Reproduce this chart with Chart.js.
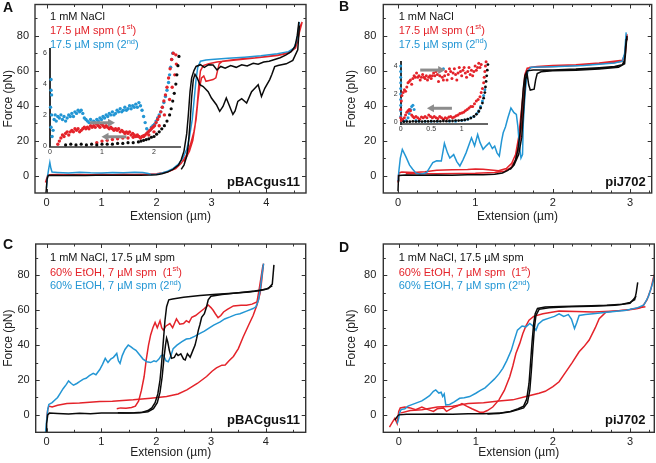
<!DOCTYPE html>
<html>
<head>
<meta charset="utf-8">
<script src="https://cdn.jsdelivr.net/npm/chart.js@4.4.0/dist/chart.umd.min.js"></script>
<style>
  html, body { margin: 0; padding: 0; background: #fff; }
  #wrap { position: relative; width: 656px; height: 463px; overflow: hidden; }
  canvas { position: absolute; }
</style>
</head>
<body>
<div id="wrap">
  <canvas id="cA" width="328" height="231" style="left:0;top:0;width:328px;height:231px"></canvas>
  <canvas id="cB" width="328" height="231" style="left:328px;top:0;width:328px;height:231px"></canvas>
  <canvas id="cC" width="328" height="232" style="left:0;top:231px;width:328px;height:232px"></canvas>
  <canvas id="cD" width="328" height="232" style="left:328px;top:231px;width:328px;height:232px"></canvas>
  <canvas id="iA" width="160" height="116" style="left:30px;top:44px;width:160px;height:116px"></canvas>
  <canvas id="iB" width="110" height="80" style="left:385px;top:56px;width:110px;height:80px"></canvas>
</div>
<script>
// ---- tick labels ----
const yTicks = [0, 20, 40, 60, 80];
const xTicks4 = [0, 1, 2, 3, 4];
const xTicks3 = [0, 1, 2, 3];
const iaXTicks = [0, 1, 2];
const iaYTicks = [0, 2, 4, 6];
const ibXTicks = [0, 0.5, 1];
const ibYTicks = [0, 2, 4];

// ---- panel A (pBACgus11, 1 mM NaCl / 17.5 uM spm) : [extension um, force pN] ----
const aBlack1 = [[-0.01,-10],[0,-6],[0.01,-2],[0.03,0],[0.1,0.2],[0.3,0],[0.5,0.1],[0.7,0],[0.9,0.2],[1.1,0.1],[1.3,0.2],[1.5,0.1],[1.7,0.2],[1.9,0.3],[2.0,0.5],[2.1,1],[2.2,2],[2.3,3.5],[2.4,6],[2.45,9],[2.5,14],[2.55,24],[2.58,35],[2.61,48],[2.64,56],[2.68,60],[2.72,62.5],[2.8,63.5],[2.87,62],[2.95,63.5],[3.03,63.3],[3.1,60.5],[3.17,62.5],[3.25,61.5],[3.35,63],[3.45,62],[3.55,63.5],[3.65,62.8],[3.76,64.3],[3.85,63.8],[3.95,65],[4.05,65.5],[4.15,66.5],[4.25,67.5],[4.35,69],[4.45,71],[4.52,74],[4.56,80],[4.59,88]];
const aBlack2 = [[4.6,86],[4.57,72],[4.48,66],[4.36,64],[4.21,63],[4.15,62.4],[4.1,58],[4.06,55],[3.97,50],[3.91,45.3],[3.85,52],[3.79,50],[3.73,48],[3.64,41.5],[3.55,44],[3.48,42.5],[3.43,37],[3.39,35],[3.33,39.7],[3.27,44.4],[3.21,39.6],[3.15,36.8],[3.09,40.6],[3.0,44.4],[2.94,48],[2.85,51],[2.79,52],[2.74,56],[2.7,58],[2.67,55],[2.64,45],[2.61,30],[2.58,18],[2.55,11],[2.5,6],[2.45,3.5]];
const aRed = [[-0.02,-4],[0,-2],[0.02,0],[0.05,0.5],[0.2,0.6],[0.4,0.4],[0.6,0.6],[0.8,0.5],[1.0,0.7],[1.2,0.5],[1.4,0.7],[1.6,0.6],[1.8,0.8],[2.0,1],[2.2,2],[2.35,4],[2.45,7],[2.55,12],[2.62,18],[2.68,25],[2.72,32],[2.75,42],[2.78,50],[2.82,56],[2.86,57],[2.9,54],[2.96,54.5],[3.03,55],[3.08,56],[3.11,60],[3.14,64],[3.2,65.5],[3.4,66.3],[3.6,67],[3.8,67.5],[4.0,68.2],[4.2,69],[4.4,70.5],[4.5,72.5],[4.56,76],[4.6,82],[4.65,88],[4.62,86],[4.58,79],[4.53,73],[4.4,70],[4.2,68.8],[4.0,68],[3.7,67],[3.4,66],[3.1,65],[2.95,64],[2.85,63],[2.8,60],[2.77,52],[2.74,40],[2.7,28],[2.66,20],[2.6,14],[2.5,8]];
const aBlue = [[0.0,-7],[0.02,0],[0.04,4],[0.06,7.5],[0.08,4],[0.1,2],[0.2,1.8],[0.4,1.5],[0.6,1.9],[0.8,1.6],[1.0,1.5],[1.2,1.7],[1.4,1.6],[1.6,1.9],[1.75,1.7],[1.85,1.2],[1.9,0.6],[2.0,0.8],[2.1,1.5],[2.2,2.5],[2.3,4],[2.4,6.5],[2.48,10],[2.55,15],[2.6,22],[2.65,32],[2.69,45],[2.72,55],[2.75,62],[2.8,65.5],[2.9,66.2],[3.0,66.5],[3.3,67.2],[3.6,67.8],[3.9,68.6],[4.2,69.8],[4.4,71],[4.5,73],[4.55,77],[4.58,83],[4.6,88]];

// ---- panel B (piJ702) ----
const bBlack = [[0,-9],[0.005,-3],[0.01,0],[0.1,0.3],[0.3,0.2],[0.5,0.3],[0.7,0.2],[0.9,0.4],[1.1,0.5],[1.25,0.8],[1.35,1.5],[1.42,3],[1.48,5],[1.52,9],[1.55,15],[1.58,25],[1.6,38],[1.62,50],[1.64,57],[1.67,60],[1.75,60.5],[2.0,60.5],[2.3,61],[2.6,61.8],[2.8,62.5],[2.9,63.5],[2.93,66],[2.95,78],[2.96,80],[2.93,64],[2.85,62],[2.6,61],[2.3,60.3],[2.0,60],[1.85,59.5],[1.8,58.5],[1.78,55],[1.76,49.5],[1.71,49],[1.69,52],[1.67,58],[1.65,55],[1.63,42],[1.6,22],[1.56,12],[1.5,6],[1.45,3.5]];
const bRed = [[0,-4],[0.005,0],[0.01,1.5],[0.05,2],[0.2,1.8],[0.35,2.2],[0.5,3],[0.7,3.3],[0.9,3.5],[1.0,3.8],[1.1,3.6],[1.2,3.2],[1.3,2.8],[1.4,4],[1.47,7],[1.52,12],[1.56,22],[1.59,35],[1.62,48],[1.64,58],[1.67,61.5],[1.75,62],[2.0,62.5],[2.3,63],[2.6,64],[2.8,64.8],[2.9,65.5],[2.93,68],[2.95,78],[2.96,81],[2.94,70],[2.9,66],[2.6,64.5],[2.3,63.5],[2.0,63],[1.8,62.5],[1.7,62],[1.66,58],[1.63,45],[1.6,30],[1.57,18],[1.52,9],[1.46,4.5],[1.38,2.5],[1.25,1.8],[1.0,1.3],[0.8,1.2],[0.5,1],[0.3,1.2],[0.1,1]];
const bBlue = [[0,-3],[0.01,2],[0.03,10],[0.056,15],[0.1,11],[0.15,6],[0.19,3.6],[0.23,1.5],[0.28,0.8],[0.33,1.2],[0.37,1.7],[0.41,4.5],[0.45,7.4],[0.5,8.5],[0.56,8.3],[0.6,18.5],[0.64,13],[0.67,10],[0.72,12],[0.76,8],[0.8,5.5],[0.84,9],[0.88,13],[0.92,18],[0.95,21.6],[0.99,17],[1.03,23.5],[1.06,19],[1.1,15],[1.14,17],[1.18,18.8],[1.22,15.5],[1.25,16.9],[1.28,13],[1.31,11.2],[1.34,20],[1.36,24.5],[1.39,28],[1.42,33],[1.46,38.7],[1.5,36],[1.53,35],[1.55,28],[1.57,17],[1.59,10],[1.61,12],[1.62,30],[1.64,45],[1.66,55],[1.68,60],[1.72,62],[2.0,62.3],[2.4,63],[2.8,64.5],[2.9,65.5],[2.93,70],[2.95,82]];

// ---- panel C (pBACgus11, 60% EtOH) ----
const cBlack1 = [[-0.01,-10],[0.0,-5],[0.02,0],[0.05,1],[0.2,0.8],[0.4,0.5],[0.6,0.9],[0.8,0.6],[1.0,1.0],[1.2,1.1],[1.4,1.0],[1.6,1.2],[1.75,1.5],[1.85,2.5],[1.92,4],[1.98,7],[2.03,12],[2.07,20],[2.1,30],[2.13,42],[2.16,54],[2.19,62],[2.23,66],[2.3,66.5],[2.5,67.5],[2.8,68.5],[3.1,69.2],[3.4,69.8],[3.7,70.5],[3.9,71.3],[4.05,72.5],[4.12,75],[4.15,86]];
const cBlack2 = [[4.12,74],[4.0,72],[3.8,71],[3.5,70],[3.2,69],[3.0,68],[2.95,66],[2.92,62],[2.88,58],[2.83,56],[2.8,52],[2.77,48.6],[2.74,44],[2.71,40],[2.67,37],[2.62,33],[2.57,35],[2.53,31.5],[2.5,32],[2.45,35],[2.4,34],[2.37,35.2],[2.33,33],[2.28,32.4],[2.24,37],[2.21,42],[2.19,44],[2.17,40],[2.14,32],[2.11,22],[2.07,13],[2.02,7],[1.95,3.5],[1.85,1.8],[1.7,1.2],[1.5,1.0],[1.3,1.2]];
const cRed1 = [[1.28,3.5],[1.35,4],[1.45,3.8],[1.55,4.2],[1.62,5],[1.68,8],[1.73,14],[1.78,22],[1.82,32],[1.86,40],[1.9,46],[1.94,50],[1.98,53],[2.02,50],[2.07,54],[2.1,50],[2.13,48.6],[2.18,51],[2.25,52.4],[2.3,50],[2.37,55],[2.43,52],[2.5,52.4],[2.55,54],[2.6,53],[2.65,56],[2.72,57],[2.8,59],[2.88,61],[2.95,63],[3.0,61.5],[3.04,60],[3.08,58],[3.13,55.8],[3.18,57],[3.23,59],[3.3,60.5],[3.41,62.5],[3.55,62.8],[3.65,62.9],[3.75,63.5],[3.84,64.8],[3.88,72],[3.92,80],[3.95,86]];
const cRed2 = [[0.0,-2],[0.02,3],[0.04,5],[0.1,4.5],[0.2,5.5],[0.37,6.5],[0.6,6.8],[0.97,7.6],[1.2,7.8],[1.58,8.6],[1.9,9.5],[2.19,10.5],[2.4,12],[2.56,14.3],[2.75,18],[2.92,22],[3.02,25],[3.1,27],[3.2,28.5],[3.26,28.6],[3.33,31],[3.41,33.5],[3.5,38],[3.59,44.8],[3.68,51],[3.77,57],[3.84,63],[3.9,70],[3.93,78],[3.96,86.7]];
const cBlue = [[-0.02,-10],[0,-3],[0.02,3],[0.04,6],[0.1,7],[0.15,8.5],[0.2,10],[0.25,12.5],[0.3,15],[0.36,17.5],[0.4,19.5],[0.45,18],[0.49,17],[0.55,18],[0.6,19],[0.67,20.5],[0.72,21],[0.78,22.5],[0.85,23.8],[0.9,23],[0.97,26],[1.02,29],[1.07,32.4],[1.12,30],[1.17,32],[1.22,33],[1.28,35.2],[1.31,31],[1.34,29.5],[1.38,34],[1.43,37.5],[1.49,40],[1.54,39],[1.58,38],[1.63,37],[1.7,34.3],[1.76,32],[1.83,30.5],[1.9,30],[1.96,31],[2.0,30.5],[2.05,32],[2.09,34],[2.13,34.3],[2.18,31],[2.22,30.5],[2.27,34],[2.31,38],[2.38,40],[2.47,42],[2.55,43.5],[2.62,43.8],[2.7,45],[2.8,46.7],[2.88,48],[2.95,49.5],[3.05,51.5],[3.17,53.3],[3.25,55],[3.35,56.2],[3.45,57.5],[3.53,58],[3.65,59.5],[3.77,61],[3.82,62],[3.87,66],[3.9,72],[3.93,80],[3.96,86.7]];

// ---- panel D (piJ702, 60% EtOH) ----
const dBlack1 = [[-0.05,-3],[-0.02,-1],[0,0],[0.1,0.3],[0.3,0.4],[0.5,0.5],[0.7,0.4],[0.9,0.6],[1.1,0.7],[1.3,1],[1.45,2],[1.55,3.5],[1.62,5],[1.66,9],[1.69,18],[1.71,30],[1.73,42],[1.75,52],[1.77,58],[1.8,61],[1.9,61.8],[2.1,62.2],[2.4,62.5],[2.7,62.8],[2.9,63.5],[3.0,64.5],[3.06,66],[3.08,70],[3.1,76]];
const dBlack2 = [[3.08,68],[3.0,64],[2.8,62.8],[2.5,62.3],[2.2,62],[1.95,61.5],[1.82,60.5],[1.78,57],[1.76,50],[1.74,38],[1.72,25],[1.7,14],[1.67,7],[1.62,4],[1.55,3],[1.45,1.8],[1.3,0.8],[1.15,0.5]];
const dRed1 = [[-0.12,-7],[-0.08,-4],[-0.05,-2],[-0.02,-5],[0,2],[0.02,4],[0.08,4.5],[0.15,4],[0.22,3],[0.3,4.5],[0.38,3],[0.45,2],[0.5,3.5],[0.58,4],[0.62,2],[0.7,4],[0.76,5],[0.82,6.5],[0.88,5],[0.95,3.5],[1.0,2.5],[1.05,1.5],[1.1,1.5],[1.15,2.5],[1.22,4.5],[1.3,8.6],[1.37,14],[1.44,21.9],[1.48,28],[1.52,35.2],[1.57,41],[1.61,46.7],[1.65,51],[1.69,54.3],[1.75,56.5],[1.87,58],[2.08,59.5],[2.3,59.3],[2.52,59],[2.75,59.5],[2.95,60],[3.1,61],[3.16,62],[3.22,66],[3.27,72],[3.3,78],[3.32,81]];
const dRed2 = [[3.2,62],[3.0,60.5],[2.8,59.5],[2.69,59],[2.6,55.2],[2.55,50],[2.47,42.9],[2.4,39],[2.34,36.2],[2.25,30],[2.17,24.8],[2.08,19],[2.0,16.2],[1.9,13.5],[1.82,12.4],[1.65,10.5],[1.48,8.6],[1.3,8],[1.1,7],[0.9,6.5],[0.7,5],[0.5,4.5],[0.3,3],[0.15,2.5],[0.02,1]];
const dBlue = [[-0.02,-5],[0,-2],[0.01,1],[0.03,3],[0.08,3.5],[0.12,5],[0.18,6],[0.24,7],[0.3,8],[0.35,9.5],[0.4,11],[0.45,13.5],[0.48,14.3],[0.52,12.5],[0.55,13],[0.57,10.5],[0.59,12],[0.61,5.7],[0.66,6],[0.72,7.5],[0.79,9.5],[0.85,9.8],[0.92,10.5],[1.0,12.4],[1.06,14],[1.12,15.5],[1.18,18],[1.24,20.5],[1.3,23.5],[1.35,26.7],[1.4,31],[1.46,37],[1.5,43],[1.54,48.6],[1.6,51],[1.65,50.5],[1.7,52.4],[1.74,51],[1.78,48.6],[1.81,52],[1.87,54.3],[1.95,55.5],[2.02,56.5],[2.08,58],[2.14,56.5],[2.2,57.5],[2.24,55],[2.28,49.5],[2.31,53],[2.34,57],[2.42,57.5],[2.52,58],[2.7,58.8],[2.95,60],[3.1,61.5],[3.18,63],[3.24,68],[3.29,75],[3.32,80]];

// ---- inset A (low-force detail, scatter) ----
const iaBlue = [[0.02,4.3],[0.02,3.6],[0.03,3.3],[0.01,2.5],[0.03,2.0],[0.02,1.2],[0.04,0.6],[0.06,1.0],[0.08,1.7],[0.1,2.0],[0.12,1.6],[0.15,1.9],[0.18,1.8],[0.21,2.0],[0.24,1.7],[0.27,1.9],[0.3,1.6],[0.33,1.8],[0.36,2.0],[0.39,1.9],[0.42,2.1],[0.45,1.9],[0.48,2.2],[0.51,2.1],[0.54,2.3],[0.57,2.2],[0.6,2.3],[0.63,2.1],[0.66,1.8],[0.69,1.7],[0.72,1.6],[0.75,1.5],[0.78,1.7],[0.81,1.5],[0.84,1.6],[0.87,1.5],[0.9,1.7],[0.93,1.6],[0.96,1.8],[0.99,1.7],[1.02,1.9],[1.05,1.8],[1.08,2.0],[1.11,1.9],[1.14,2.1],[1.17,2.0],[1.2,2.2],[1.23,2.0],[1.26,2.1],[1.29,2.3],[1.32,2.2],[1.35,2.4],[1.38,2.2],[1.41,2.3],[1.44,2.5],[1.47,2.3],[1.5,2.4],[1.53,2.6],[1.56,2.4],[1.59,2.6],[1.62,2.5],[1.65,2.7],[1.68,2.5],[1.71,2.8],[1.74,2.6],[1.77,2.3],[1.8,1.9],[1.83,1.5],[1.86,1.1],[1.89,0.9],[1.92,1.0],[1.95,1.2],[1.98,1.3],[2.01,1.4],[2.04,1.6],[2.07,1.8],[2.1,2.0],[2.13,2.2],[2.16,2.5],[2.19,2.8],[2.22,3.2],[2.25,3.6],[2.28,4.1],[2.3,4.6],[2.32,5.1],[2.34,5.6],[2.36,6.0]];
const iaRed = [[0.15,0.1],[0.18,0.3],[0.21,0.5],[0.24,0.7],[0.27,0.6],[0.3,0.8],[0.33,0.9],[0.36,0.7],[0.39,0.9],[0.42,1.0],[0.45,0.9],[0.48,1.1],[0.51,1.0],[0.54,1.1],[0.57,0.9],[0.6,1.0],[0.63,1.1],[0.66,1.2],[0.69,1.1],[0.72,1.2],[0.75,1.1],[0.78,1.3],[0.81,1.2],[0.84,1.3],[0.87,1.2],[0.9,1.4],[0.93,1.3],[0.96,1.2],[0.99,1.4],[1.02,1.3],[1.05,1.2],[1.08,1.3],[1.11,1.2],[1.14,1.1],[1.17,1.2],[1.2,1.1],[1.23,1.0],[1.26,1.1],[1.29,1.0],[1.32,1.1],[1.35,0.9],[1.38,1.0],[1.41,0.9],[1.44,0.8],[1.47,0.9],[1.5,0.8],[1.53,0.9],[1.56,0.7],[1.59,0.8],[1.62,0.7],[1.65,0.6],[1.68,0.7],[1.71,0.6],[1.74,0.5],[1.77,0.6],[1.8,0.6],[1.83,0.7],[1.86,0.8],[1.89,0.9],[1.92,1.0],[1.95,1.1],[1.98,1.2],[2.01,1.3],[2.04,1.5],[2.07,1.7],[2.1,1.9],[2.13,2.2],[2.16,2.5],[2.19,2.9],[2.22,3.3],[2.25,3.8],[2.28,4.4],[2.31,5.0],[2.34,5.6],[2.37,6.0],[2.42,5.9],[0.9,0.2],[1.0,0.3],[1.1,0.35],[1.2,0.4],[1.3,0.45],[1.4,0.5],[1.5,0.5],[1.6,0.55],[1.7,0.6],[1.8,0.65],[1.9,0.7],[2.0,0.9],[2.1,1.3],[2.2,2.0],[2.3,3.0],[2.35,3.8],[2.4,4.6],[2.43,5.3]];
const iaBlack = [[0.3,0.05],[0.4,0.1],[0.5,0.05],[0.6,0.1],[0.7,0.05],[0.8,0.1],[0.9,0.05],[1.0,0.1],[1.1,0.1],[1.2,0.1],[1.3,0.15],[1.4,0.15],[1.5,0.2],[1.6,0.2],[1.7,0.25],[1.75,0.3],[1.8,0.35],[1.85,0.4],[1.9,0.45],[1.95,0.55],[2.0,0.6],[2.05,0.75],[2.1,0.9],[2.15,1.1],[2.2,1.3],[2.25,1.6],[2.3,2.0],[2.33,2.4],[2.36,2.9],[2.39,3.4],[2.42,4.0],[2.44,4.6],[2.46,5.2],[2.48,5.8]];
const iaArrows = [[0.77,1.49,1.25,1.49],[1.47,0.58,0.99,0.58]];

// ---- inset B ----
const ibRed = [[0.0,0.3],[0.0,0.9],[0.01,1.5],[0.02,1.9],[0.04,2.1],[0.06,2.3],[0.08,2.2],[0.1,2.5],[0.12,2.8],[0.14,2.9],[0.16,3.0],[0.18,2.7],[0.2,3.1],[0.22,3.3],[0.24,3.2],[0.26,3.5],[0.28,3.2],[0.3,3.3],[0.32,3.0],[0.34,3.2],[0.36,3.4],[0.38,3.2],[0.4,3.1],[0.42,3.3],[0.44,3.0],[0.46,3.2],[0.48,3.3],[0.5,3.1],[0.52,3.3],[0.54,3.5],[0.56,3.3],[0.58,3.6],[0.6,3.4],[0.62,2.9],[0.64,3.3],[0.66,3.7],[0.68,3.2],[0.7,3.0],[0.72,3.3],[0.74,3.6],[0.76,3.0],[0.78,3.4],[0.8,3.8],[0.82,3.6],[0.84,3.1],[0.86,3.5],[0.88,3.8],[0.9,3.4],[0.92,3.0],[0.94,3.5],[0.96,3.9],[0.98,3.6],[1.0,3.3],[1.02,3.7],[1.04,3.9],[1.06,3.5],[1.08,3.2],[1.1,3.6],[1.12,3.9],[1.14,3.4],[1.16,3.7],[1.18,3.3],[1.2,3.6],[1.22,4.0],[1.24,3.7],[1.26,3.9],[1.28,4.2],[1.3,3.9],[1.32,4.1],[0.01,0.1],[0.03,0.2],[0.06,0.3],[0.08,0.5],[0.1,0.7],[0.12,0.8],[0.14,0.9],[0.16,0.8],[0.18,0.5],[0.2,0.4],[0.22,0.3],[0.25,0.4],[0.28,0.3],[0.31,0.2],[0.34,0.35],[0.37,0.3],[0.4,0.4],[0.43,0.3],[0.46,0.5],[0.49,0.4],[0.52,0.3],[0.55,0.4],[0.58,0.3],[0.61,0.25],[0.64,0.4],[0.67,0.3],[0.7,0.2],[0.73,0.3],[0.76,0.25],[0.79,0.35],[0.82,0.4],[0.85,0.3],[0.88,0.35],[0.91,0.45],[0.94,0.5],[0.97,0.6],[1.0,0.65],[1.03,0.7],[1.06,0.8],[1.09,0.9],[1.12,1.0],[1.15,1.1],[1.18,1.1],[1.21,1.3],[1.24,1.5],[1.27,1.6],[1.3,1.8],[1.32,2.1],[1.34,2.4],[1.36,2.8],[1.37,3.2],[1.38,3.6],[1.39,4.0],[1.4,4.3]];
const ibBlue = [[0.0,4.0],[0.0,3.6],[0.0,3.2],[0.0,2.8],[0.0,2.4],[0.0,2.0],[0.0,1.6],[0.0,1.2],[0.0,0.8],[0.0,0.4],[0.02,0.1],[0.05,0.05],[0.09,0.1],[0.12,0.3],[0.14,0.6],[0.16,0.9],[0.18,1.1],[0.2,1.2],[0.22,0.9],[0.25,0.1],[0.3,0.05],[0.4,0.05],[0.5,0.05],[0.6,0.05],[0.7,3.8],[0.8,0.05],[0.9,0.05],[1.0,0.1],[1.05,0.15],[1.1,0.2],[1.15,0.3],[1.2,0.4],[1.25,0.6],[1.28,0.8],[1.31,1.1],[1.34,1.5],[1.36,1.9],[1.38,2.3]];
const ibBlack = [[0.05,0.02],[0.1,0.03],[0.15,0.02],[0.2,0.05],[0.25,0.03],[0.3,0.05],[0.35,0.03],[0.4,0.05],[0.45,0.04],[0.5,0.06],[0.55,0.05],[0.6,0.06],[0.65,0.05],[0.7,0.07],[0.75,0.06],[0.8,0.08],[0.85,0.07],[0.9,0.1],[0.95,0.1],[1.0,0.12],[1.05,0.15],[1.1,0.2],[1.15,0.28],[1.2,0.4],[1.24,0.55],[1.28,0.75],[1.31,1.0],[1.34,1.35],[1.36,1.7],[1.38,2.1],[1.39,2.5],[1.4,2.9],[1.41,3.3],[1.42,3.7],[1.43,4.1]];
const ibArrows = [[0.32,3.71,0.73,3.71],[0.84,0.98,0.43,0.98]];

const FONT = '"Liberation Sans", Arial, Helvetica, sans-serif';
const BLACK = '#0a0a0a', RED = '#e4232a', BLUE = '#2396d4';

const legendTop = [
  { color: '#111', parts: [['1 mM NaCl']] },
  { color: RED, parts: [['17.5 µM spm (1'], ['st', 1], [')']] },
  { color: BLUE, parts: [['17.5 µM spm (2'], ['nd', 1], [')']] }
];
const legendBottom = [
  { color: '#111', parts: [['1 mM NaCl, 17.5 µM spm']] },
  { color: RED, parts: [['60% EtOH, 7 µM spm  (1'], ['st', 1], [')']] },
  { color: BLUE, parts: [['60% EtOH, 7 µM spm (2'], ['nd', 1], [')']] }
];

// frame + inward ticks on all four sides
const framePlugin = {
  id: 'frame',
  afterDatasetsDraw(chart, args, o) {
    const { ctx, chartArea: a, scales: { x, y } } = chart;
    ctx.save();
    ctx.strokeStyle = '#333';
    ctx.lineWidth = 1;
    ctx.beginPath();
    for (let i = Math.ceil(x.min / o.xMinor); i * o.xMinor < x.max; i++) {
      const v = i * o.xMinor;
      const px = Math.round(x.getPixelForValue(v)) + 0.5;
      const len = Math.abs(v - Math.round(v)) < 1e-6 ? 4 : 2.5;
      ctx.moveTo(px, a.bottom); ctx.lineTo(px, a.bottom - len);
      ctx.moveTo(px, a.top); ctx.lineTo(px, a.top + len);
    }
    for (let v = 0; v < y.max; v += 10) {
      const py = Math.round(y.getPixelForValue(v)) + 0.5;
      const len = v % 20 === 0 ? 4 : 2.5;
      ctx.moveTo(a.left, py); ctx.lineTo(a.left + len, py);
      ctx.moveTo(a.right, py); ctx.lineTo(a.right - len, py);
    }
    ctx.stroke();
    ctx.lineWidth = 1.4;
    ctx.strokeRect(a.left, a.top, a.right - a.left, a.bottom - a.top);
    ctx.restore();
  }
};

// panel letter, legend lines (with superscripts), sample name
const decoPlugin = {
  id: 'deco',
  afterDraw(chart, args, o) {
    const ctx = chart.ctx;
    ctx.save();
    ctx.textBaseline = 'alphabetic';
    ctx.fillStyle = '#111';
    ctx.textAlign = 'left';
    ctx.font = 'bold 14px ' + FONT;
    ctx.fillText(o.letter, o.letterPos[0], o.letterPos[1]);
    ctx.textAlign = 'right';
    ctx.font = 'bold 13px ' + FONT;
    ctx.fillText(o.sample, o.samplePos[0], o.samplePos[1]);
    ctx.textAlign = 'left';
    o.legend.forEach((entry, i) => {
      let cx = o.legendX;
      const by = o.legendY[i];
      ctx.fillStyle = entry.color;
      entry.parts.forEach(([t, sup]) => {
        ctx.font = (sup ? '7.5px ' : '11px ') + FONT;
        ctx.fillText(t, cx, sup ? by - 4.5 : by);
        cx += ctx.measureText(t).width;
      });
    });
    ctx.restore();
  }
};

const arrowPlugin = {
  id: 'arrows',
  afterDatasetsDraw(chart, args, o) {
    const { ctx, scales: { x, y } } = chart;
    ctx.save();
    ctx.strokeStyle = ctx.fillStyle = '#8c8c8c';
    ctx.lineWidth = 3;
    o.list.forEach(([x0, y0, x1]) => {
      const X0 = x.getPixelForValue(x0), X1 = x.getPixelForValue(x1), Y = y.getPixelForValue(y0);
      const d = Math.sign(X1 - X0);
      ctx.beginPath(); ctx.moveTo(X0, Y); ctx.lineTo(X1 - d * 5, Y); ctx.stroke();
      ctx.beginPath(); ctx.moveTo(X1, Y); ctx.lineTo(X1 - d * 7, Y - 4); ctx.lineTo(X1 - d * 7, Y + 4); ctx.closePath(); ctx.fill();
    });
    ctx.restore();
  }
};

const toXY = pts => pts.map(p => ({ x: p[0], y: p[1] }));
const lineSet = (pts, color) => ({ data: toXY(pts), borderColor: color, borderWidth: 1.5, showLine: true, pointRadius: 0, tension: 0, fill: false });
const dotSet = (pts, color, r) => ({ data: toXY(pts), backgroundColor: color, borderWidth: 0, pointRadius: r, showLine: false, clip: false });
const fmt = v => String(v);
const noGrid = { display: false, drawTicks: false };

function mainChart(id, sets, c) {
  return new Chart(document.getElementById(id), {
    type: 'scatter',
    data: { datasets: sets },
    options: {
      responsive: false, animation: false, events: [],
      layout: { padding: c.pad },
      plugins: { legend: { display: false }, tooltip: { enabled: false }, frame: { xMinor: c.xMinor }, deco: c.deco },
      scales: {
        x: {
          type: 'linear', min: c.xr[0], max: c.xr[1],
          grid: noGrid, border: { display: false },
          ticks: { font: { size: 11, family: FONT }, color: '#222', padding: c.xtpad, autoSkip: false, maxRotation: 0, callback: fmt },
          title: { display: true, text: 'Extension (µm)', font: { size: 12, family: FONT }, color: '#222', padding: { top: 0, bottom: c.xtitle } },
          afterBuildTicks: s => { s.ticks = c.xt.map(v => ({ value: v })); },
          afterFit: s => { s.height = c.xh; s.paddingLeft = 0; s.paddingRight = 0; }
        },
        y: {
          type: 'linear', min: -10, max: 98,
          grid: noGrid, border: { display: false },
          ticks: { font: { size: 11, family: FONT }, color: '#222', padding: c.ytpad, autoSkip: false, callback: fmt },
          title: { display: true, text: 'Force (pN)', font: { size: 12, family: FONT }, color: '#222', padding: { top: c.ytitle, bottom: 0 } },
          afterBuildTicks: s => { s.ticks = yTicks.map(v => ({ value: v })); },
          afterFit: s => { s.width = c.yw; s.paddingTop = 0; s.paddingBottom = 0; }
        }
      }
    },
    plugins: [framePlugin, decoPlugin]
  });
}

function insetChart(id, sets, c) {
  return new Chart(document.getElementById(id), {
    type: 'scatter',
    data: { datasets: sets },
    options: {
      responsive: false, animation: false, events: [],
      layout: { padding: c.pad },
      plugins: { legend: { display: false }, tooltip: { enabled: false }, arrows: { list: c.arrows } },
      scales: {
        x: {
          type: 'linear', min: c.xr[0], max: c.xr[1],
          grid: noGrid, border: { display: true, color: '#666', width: 2 },
          ticks: { font: { size: 7, family: FONT }, color: '#333', padding: 1, autoSkip: false, maxRotation: 0, callback: fmt },
          afterBuildTicks: s => { s.ticks = c.xt.map(v => ({ value: v })); },
          afterFit: s => { s.height = c.xh; s.paddingLeft = 0; s.paddingRight = 0; }
        },
        y: {
          type: 'linear', min: c.yr[0], max: c.yr[1],
          grid: noGrid, border: { display: true, color: '#333', width: 2 },
          ticks: { font: { size: 7, family: FONT }, color: '#333', padding: 3, autoSkip: false, callback: fmt },
          afterBuildTicks: s => { s.ticks = c.yt.map(v => ({ value: v })); },
          afterFit: s => { s.width = c.yw; s.paddingTop = 0; s.paddingBottom = 0; }
        }
      }
    },
    plugins: [arrowPlugin]
  });
}

mainChart('cA', [lineSet(aBlack1, BLACK), lineSet(aBlack2, BLACK), lineSet(aBlue, BLUE), lineSet(aRed, RED)], {
  pad: { left: 0, top: 4.5, right: 22, bottom: 0 }, xr: [-0.21, 4.72], xt: xTicks4, xMinor: 0.5,
  xh: 38, yw: 35, xtpad: 3, ytpad: 6, xtitle: 6.8, ytitle: 1.8,
  deco: { letter: 'A', letterPos: [3, 12], sample: 'pBACgus11', samplePos: [300, 186], legend: legendTop, legendX: 50, legendY: [19.5, 33.8, 48] }
});
mainChart('cB', [lineSet(bBlack, BLACK), lineSet(bBlue, BLUE), lineSet(bRed, RED)], {
  pad: { left: 0, top: 4.5, right: 4.3, bottom: 0 }, xr: [-0.19, 3.28], xt: xTicks3, xMinor: 0.25,
  xh: 38, yw: 55.3, xtpad: 3, ytpad: 7, xtitle: 6.8, ytitle: 16.8,
  deco: { letter: 'B', letterPos: [11, 10.5], sample: 'piJ702', samplePos: [317.7, 186], legend: legendTop, legendX: 70.7, legendY: [20, 33.8, 47.5] }
});
mainChart('cC', [lineSet(cBlack1, BLACK), lineSet(cBlack2, BLACK), lineSet(cBlue, BLUE), lineSet(cRed1, RED), lineSet(cRed2, RED)], {
  pad: { left: 0, top: 13, right: 22.3, bottom: 0 }, xr: [-0.2, 4.73], xt: xTicks4, xMinor: 0.5,
  xh: 30.7, yw: 35.7, xtpad: 3.5, ytpad: 6, xtitle: 2.8, ytitle: 1.8,
  deco: { letter: 'C', letterPos: [3, 17.5], sample: 'pBACgus11', samplePos: [300, 193.3], legend: legendBottom, legendX: 50, legendY: [29.7, 44.5, 58] }
});
mainChart('cD', [lineSet(dBlack1, BLACK), lineSet(dBlack2, BLACK), lineSet(dBlue, BLUE), lineSet(dRed1, RED), lineSet(dRed2, RED)], {
  pad: { left: 0, top: 13, right: 1.7, bottom: 0 }, xr: [-0.2, 3.315], xt: xTicks3, xMinor: 0.25,
  xh: 30.7, yw: 55.3, xtpad: 3.5, ytpad: 7, xtitle: 2.8, ytitle: 16.8,
  deco: { letter: 'D', letterPos: [11, 20.7], sample: 'piJ702', samplePos: [317.5, 193], legend: legendBottom, legendX: 70.7, legendY: [29.7, 44.5, 58] }
});

insetChart('iA', [dotSet(iaBlack, BLACK, 1.6), dotSet(iaRed, RED, 1.7), dotSet(iaBlue, BLUE, 1.7)], {
  pad: { left: 0, top: 5.45, right: 10, bottom: 0 }, xr: [0, 2.5], yr: [-0.05, 6.25], xt: iaXTicks, yt: iaYTicks,
  xh: 13.5, yw: 20, arrows: iaArrows
});
insetChart('iB', [dotSet(ibBlack, BLACK, 1.4), dotSet(ibRed, RED, 1.5), dotSet(ibBlue, BLUE, 1.5)], {
  pad: { left: 0, top: 5.8, right: 7.1, bottom: 0 }, xr: [0, 1.43], yr: [-0.15, 4.3], xt: ibXTicks, yt: ibYTicks,
  xh: 11.9, yw: 15.7, arrows: ibArrows
});
</script>
</body>
</html>
